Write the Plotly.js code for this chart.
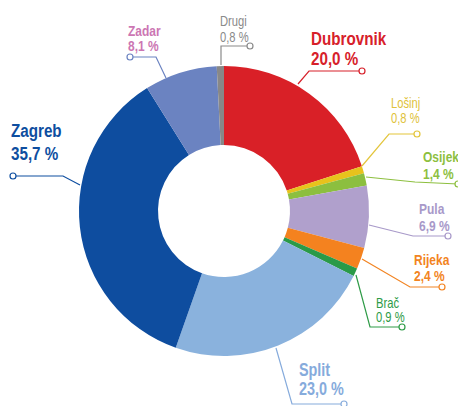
<!DOCTYPE html>
<html>
<head>
<meta charset="utf-8">
<script src="https://cdn.plot.ly/plotly-3.0.1.min.js"></script>
<style>html,body{margin:0;padding:0;background:#fff;}#chart{width:458px;height:406px;}</style>
</head>
<body>
<div id="chart"></div>
<script>
// ---- data ----
const categories = ["Dubrovnik", "Lošinj", "Osijek", "Pula", "Rijeka", "Brač", "Split", "Zagreb", "Zadar", "Drugi"];
const shares = [20.0, 0.8, 1.4, 6.9, 2.4, 0.9, 23.0, 35.7, 8.1, 0.8];

// ---- styles ----
const sliceColors = ["#d92027", "#e8c21c", "#8cbf3f", "#b0a0cc", "#f4821f", "#2a9a48", "#8ab2dd", "#0e4d9f", "#6b83c1", "#888888"];
const textColors  = ["#d7202a", "#e0c23a", "#8dbf3f", "#a899c9", "#f28422", "#2e9b47", "#86abdc", "#0e4ea0", "#cc76b3", "#8a8a8a"];
const lineColors  = ["#d7202a", "#e3c53b", "#8dbf3f", "#a899c9", "#f28422", "#2e9b47", "#86abdc", "#0e4ea0", "#6b83c1", "#8a8a8a"];
const fontSizes   = [19, 14, 15, 15, 15, 14, 18, 19, 15, 14];
const boldFlags   = [true, false, true, true, true, false, true, true, true, false];
const condense = 0.8;

// ---- label layout (pixel positions: left x, cap-top of name, cap-top of value) ----
const labelBoxes = [[310, 32, 52], [390, 98, 113], [422, 151, 168], [418, 203, 220], [413, 254, 270], [375, 298, 312], [298, 364, 383], [10, 124, 147], [127, 25, 40], [219, 16, 32]];
const leaderPaths = [
  [[362, 71], [309, 71], [298, 84]],
  [[417, 134], [389, 134], [362, 166]],
  [[458, 184], [415, 182], [366, 177]],
  [[448, 236], [413, 236], [369, 225]],
  [[442, 287], [410, 287], [362, 259]],
  [[402, 327], [370, 327], [356, 275]],
  [[344, 404], [292, 404], [276, 348]],
  [[13, 176], [63, 176], [80, 185]],
  [[130, 57], [156, 57], [166, 78]],
  [[250, 46], [221, 46], [221, 65]]
];

const W = 458, H = 406;
const px = x => x / W;
const py = y => 1 - y / H;

const fontFamily = '"Liberation Sans", Arial, sans-serif';

const annotations = [];
categories.forEach((c, i) => {
  const val = shares[i].toFixed(1).replace('.', ',') + ' %';
  const sz = fontSizes[i];
  const [lx, capName, capVal] = labelBoxes[i];
  [[c, capName], [val, capVal]].forEach(([txt, cap]) => {
    annotations.push({
      text: boldFlags[i] ? `<b>${txt}</b>` : txt, xref: 'paper', yref: 'paper',
      x: px(lx), y: py(cap - 0.26 * sz),
      xanchor: 'left', yanchor: 'top', align: 'left', showarrow: false,
      font: {family: fontFamily, size: sz, color: textColors[i]},
      borderpad: 0
    });
  });
});

const shapes = [];
leaderPaths.forEach((pts, i) => {
  const d = pts.map((p, k) => (k ? 'L' : 'M') + px(p[0]).toFixed(5) + ',' + py(p[1]).toFixed(5)).join(' ');
  shapes.push({type: 'path', xref: 'paper', yref: 'paper', path: d, line: {color: lineColors[i], width: 1.2}});
  const c = pts[0], r = 3;
  shapes.push({type: 'circle', xref: 'paper', yref: 'paper',
    x0: px(c[0] - r), x1: px(c[0] + r), y0: py(c[1] + r), y1: py(c[1] - r),
    fillcolor: '#ffffff', line: {color: lineColors[i], width: 1.2}});
});

const trace = {
  type: 'pie',
  labels: categories,
  values: shares,
  sort: false,
  direction: 'clockwise',
  rotation: 0,
  hole: 0.455,
  marker: {colors: sliceColors, line: {width: 0}},
  textinfo: 'none',
  hoverinfo: 'label+value',
  showlegend: false,
  domain: {x: [79 / W, 369 / W], y: [50 / H, 340 / H]}
};

const layout = {
  width: W, height: H,
  margin: {l: 0, r: 0, t: 0, b: 0},
  paper_bgcolor: '#ffffff',
  showlegend: false,
  annotations: annotations,
  shapes: shapes
};

Plotly.newPlot('chart', [trace], layout, {staticPlot: true, displayModeBar: false}).then(gd => {
  // narrow the label glyphs horizontally (condensed look), keeping each left edge fixed
  gd.querySelectorAll('.annotation-text').forEach(t => {
    const bb = t.getBBox();
    const x0 = bb.x;
    t.setAttribute('transform', `translate(${x0},0) scale(${condense},1) translate(${-x0},0)`);
  });
});
</script>
</body>
</html>
